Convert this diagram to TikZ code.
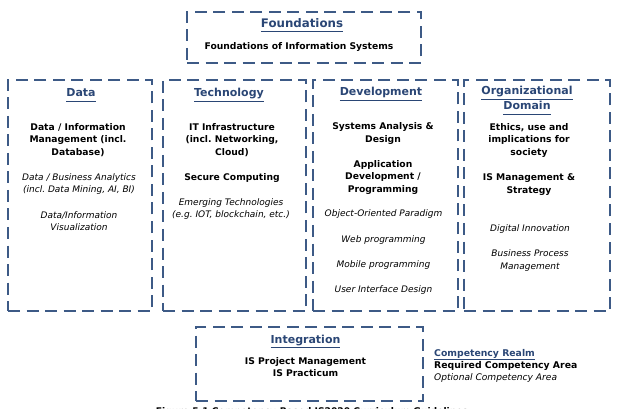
\documentclass[tikz,border=0pt]{standalone}
\usepackage{fontspec}
\setmainfont{DejaVu Sans}
\frenchspacing
\definecolor{bordc}{HTML}{3D5A86}
\definecolor{titc}{HTML}{2A4675}
\newcommand\ttl[1]{\underline{#1\vphantom{y}}}
\tikzset{
  realm/.style={draw=bordc, line width=1.9pt, dash pattern=on 12pt off 6.5pt, rectangle, inner sep=0pt},
  title/.style={inner sep=0pt, anchor=base, text=titc, font=\fontsize{11}{15}\selectfont\bfseries},
  req/.style={inner sep=0pt, anchor=north, align=center, font=\fontsize{9.2}{12.4}\selectfont\bfseries},
  opt/.style={inner sep=0pt, anchor=north, align=center, font=\fontsize{9}{12.6}\selectfont\itshape},
  legend/.style={inner sep=0pt, anchor=base west, font=\fontsize{9.3}{12}\selectfont},
}
\begin{document}
\begin{tikzpicture}[x=1pt,y=-1pt]
\useasboundingbox (0,0) rectangle (619,409);
\clip (0,0) rectangle (619,409);
% realm boxes
\node[realm, minimum width=234pt, minimum height=51pt] (found) at (304,37.5) {};
\node[realm, minimum width=144pt, minimum height=231pt] (data) at (80,195.5) {};
\node[realm, minimum width=143pt, minimum height=231pt] (tech) at (234.5,195.5) {};
\node[realm, minimum width=145pt, minimum height=231pt] (dev) at (385.5,195.5) {};
\node[realm, minimum width=146pt, minimum height=231pt] (org) at (537,195.5) {};
\node[realm, minimum width=227pt, minimum height=74pt] (integ) at (309.5,364) {};
% Foundations
\node[title, font=\fontsize{11.8}{15}\selectfont\bfseries] (tfound) at (302,27.5) {\ttl{Foundations}};
\node[req] (f1) at (299,42) {Foundations of Information Systems};
% Data
\node[title] (tdata) at (81,97) {\ttl{Data}};
\node[req] (d1) at (78,123.3) {Data / Information\\Management (incl.\\Database)};
\node[opt] (d2) at (79,173.3) {Data / Business Analytics\\(incl. Data Mining, AI, BI)};
\node[opt] (d3) at (79,211) {Data/Information\\Visualization};
% Technology
\node[title] (ttech) at (229,97) {\ttl{Technology}};
\node[req] (t1) at (232,123.3) {IT Infrastructure\\(incl. Networking,\\Cloud)};
\node[req] (t2) at (232,173.3) {Secure Computing};
\node[opt] (t3) at (231,198.3) {Emerging Technologies\\(e.g. IOT, blockchain, etc.)};
% Development
\node[title] (tdev) at (381,96) {\ttl{Development}};
\node[req] (v1) at (383,122.6) {Systems Analysis \&\\Design};
\node[req] (v2) at (383,160.3) {Application\\Development /\\Programming};
\node[opt] (v3) at (383.5,209.9) {Object-Oriented Paradigm};
\node[opt] (v4) at (383.5,235.6) {Web programming};
\node[opt] (v5) at (383.5,260.9) {Mobile programming};
\node[opt] (v6) at (383.5,285.6) {User Interface Design};
% Organizational Domain
\node[title] (torg1) at (527,95) {\ttl{Organizational}};
\node[title] (torg2) at (527,110) {\ttl{Domain}};
\node[req] (o1) at (529,123.3) {Ethics, use and\\implications for\\society};
\node[req] (o2) at (529,173.9) {IS Management \&\\Strategy};
\node[opt] (o3) at (530,224.9) {Digital Innovation};
\node[opt] (o4) at (530,249.9) {Business Process\\Management};
% Integration
\node[title] (tint) at (305.5,343) {\ttl{Integration}};
\node[req] (i1) at (305.5,357.3) {IS Project Management\\IS Practicum};
% Legend
\node[legend, text=titc, font=\fontsize{9.3}{12}\selectfont\bfseries] (l1) at (434,356) {\underline{Competency Realm}};
\node[legend, font=\fontsize{9.3}{12}\selectfont\bfseries] (l2) at (434,368) {Required Competency Area};
\node[legend, font=\fontsize{9.1}{12}\selectfont\itshape] (l3) at (434,380.5) {Optional Competency Area};
% caption, cut off by the lower edge as in the reference
\node[inner sep=0pt, anchor=base, font=\fontsize{9.2}{12}\selectfont\bfseries] (cap) at (312,414) {Figure 5.1 Competency-Based IS2020 Curriculum Guidelines};
\end{tikzpicture}
\end{document}
